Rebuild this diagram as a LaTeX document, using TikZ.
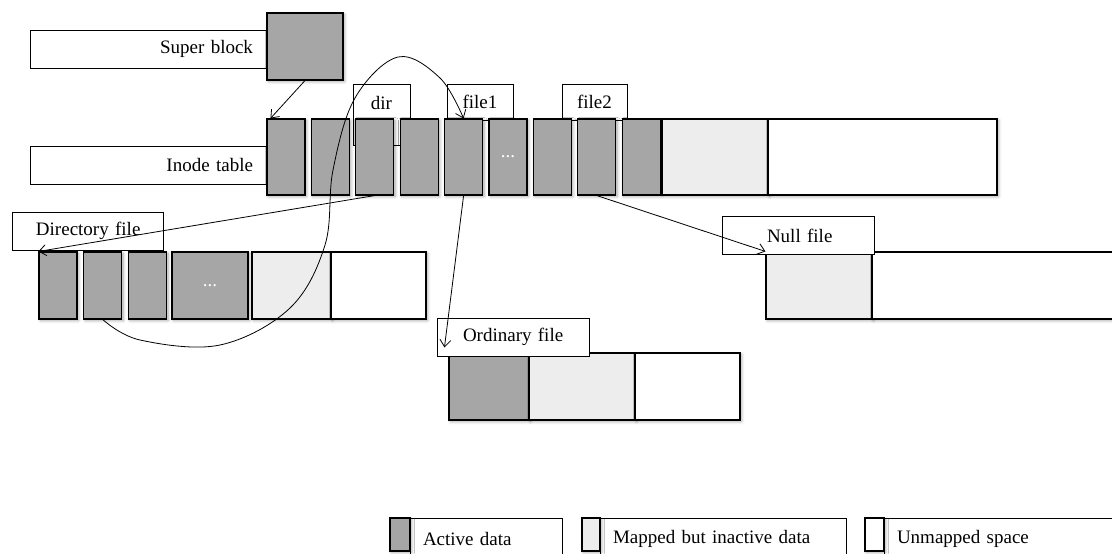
\documentclass[tikz,border=0pt]{standalone}
\usepackage{fontspec}
\setmainfont{Liberation Serif}
\usetikzlibrary{arrows.meta,shadows.blur}
\colorlet{fsgray}{black!35}
\colorlet{fslight}{black!7}
\tikzset{
  fsbox/.style={draw,line width=1.1pt,inner sep=0pt,
    blur shadow={shadow xshift=1.5pt,shadow yshift=-1.5pt,
                 shadow blur radius=3pt,shadow blur steps=6,shadow opacity=35}},
  fsused/.style={fsbox,fill=fsgray,minimum width=38pt,text=white},
  fsstale/.style={fsbox,fill=fslight},
  fsfree/.style={fsbox,fill=white},
  fslabel/.style={draw,line width=0.8pt,fill=white,inner sep=0pt,
                  minimum height=38pt,align=left},
  fstag/.style={draw,line width=0.8pt,fill=white,inner sep=0pt,
                minimum height=36pt},
  fsflow/.style={-{Straight Barb[length=7pt,width=11pt]},line width=0.8pt}
}

\begin{document}
\begin{tikzpicture}[x=1pt,y=-1pt,font=\fontsize{19}{22}\selectfont]
  \useasboundingbox (0,0) rectangle (1112,554);

  % super block and inode table
  \node[fslabel,inner xsep=15pt,text width=208pt,align=right] (sbl) at (149,49) {Super block};
  \node[fsused,minimum width=76pt,minimum height=67pt] (sb) at (305,46.5) {};
  \node[fslabel,inner xsep=15pt,text width=208pt,align=right] (itl) at (149,165) {Inode table};
  \node[fstag,minimum width=57pt,minimum height=0pt,text height=25pt,text depth=36pt]
    (dirtag) at (381.5,114.5) {dir};
  \node[fstag,minimum width=66pt] (f1tag) at (480,102) {file1};
  \node[fstag,minimum width=65pt] (f2tag) at (594.5,102) {file2};
  \foreach \k in {1,...,9}
    \node[fsused,minimum height=76pt] (i\k) at ({286+44.4*(\k-1)},157) {\ifnum\k=6 ...\fi};
  \node[fsstale,minimum width=106pt,minimum height=76pt] (iold) at (715,157) {};
  \node[fsfree,minimum width=229pt,minimum height=76pt] (ifree) at (882.5,157) {};

  % directory file
  \node[fslabel,text width=151pt] (dl) at (87.5,231) {\hspace*{24pt}Directory file};
  \foreach \k in {1,2,3}
    \node[fsused,minimum height=67pt] (d\k) at ({58+44.75*(\k-1)},285.5) {};
  \node[fsused,minimum width=76pt,minimum height=67pt] (d4) at (210,285.5) {...};
  \node[fsstale,minimum width=79pt,minimum height=67pt] (dold) at (291.5,285.5) {};
  \node[fsfree,minimum width=95pt,minimum height=67pt] (dfree) at (378.5,285.5) {};

  % null file
  \node[fsstale,minimum width=106pt,minimum height=67pt] (nold) at (819,285.5) {};
  \node[fsfree,minimum width=242pt,minimum height=67pt] (nfree) at (993,285.5) {};
  \node[fslabel,text width=152pt] (nl) at (798,235.5) {\hspace*{45pt}Null file};

  % ordinary file
  \node[fsused,minimum width=80pt,minimum height=67pt] (o1) at (489,386.5) {};
  \node[fsstale,minimum width=106pt,minimum height=67pt] (oold) at (582,386.5) {};
  \node[fsfree,minimum width=105pt,minimum height=67pt] (ofree) at (687.5,386.5) {};
  \node[fslabel,text width=152pt] (ol) at (513,337) {\hspace*{26pt}Ordinary file};

  % key
  \node[fslabel,minimum height=42pt,text width=152pt] (keyusedl) at (486,539) {\hspace*{13pt}Active data};
  \node[fsused,minimum width=20pt,minimum height=33pt] (keyused) at (400,534.5) {};
  \node[fslabel,minimum height=42pt,text width=246pt] (keystalel) at (723,539) {\hspace*{13pt}Mapped but inactive data};
  \node[fsstale,minimum width=18pt,minimum height=33pt] (keystale) at (591,534.5) {};
  \node[fslabel,minimum height=42pt,text width=230pt] (keyfreel) at (999,539) {\hspace*{13pt}Unmapped space};
  \node[fsfree,minimum width=19pt,minimum height=33pt] (keyfree) at (874.5,534.5) {};

  % pointers
  \draw[fsflow] (sb.south) -- ([xshift=4pt]i1.north west);
  \draw[fsflow] (i3.south) -- (d1.north west);
  \draw[fsflow] (i5.south) -- ([xshift=-4pt,yshift=5pt]o1.north west);
  \draw[fsflow] (i8.south) -- (nold.north west);
  \draw[fsflow] plot[smooth,tension=0.6] coordinates {(d2.south) (140,340) (220,345)
    (290,308) (325,245) (333,170) (355,98) (398,57) (440,78) (i5.north)};
\end{tikzpicture}
\end{document}
